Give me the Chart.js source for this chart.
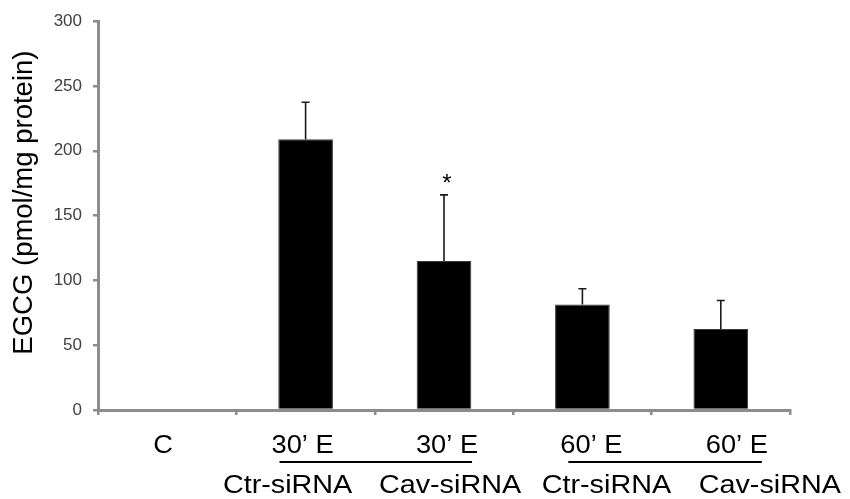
<!DOCTYPE html>
<html>
<head>
<meta charset="utf-8">
<script src="https://cdn.jsdelivr.net/npm/chart.js@4/dist/chart.umd.min.js"></script>
<style>
  html, body { margin: 0; padding: 0; background: #fff; }
  #wrap { width: 850px; height: 499px; }
</style>
</head>
<body>
<div id="wrap"><canvas id="c" width="850" height="499"></canvas></div>
<script>
// EGCG uptake per condition (pmol/mg protein), mean with upper SD
const groups     = ['C', '30\u2019 E', '30\u2019 E', '60\u2019 E', '60\u2019 E'];
const treatments = ['', 'Ctr-siRNA', 'Cav-siRNA', 'Ctr-siRNA', 'Cav-siRNA'];
const egcg       = [0, 209, 115, 81.5, 62.5];
const egcgSD     = [0, 28.5, 51, 12, 22];
const significant = [false, false, true, false, false];
const yTickValues = [0, 50, 100, 150, 200, 250, 300];
const yTitle = 'EGCG (pmol/mg protein)';
// pairs of conditions joined by a line under their time labels
const underlinePairs = [[1, 2], [3, 4]];

const FONT = '"Liberation Sans", Arial, sans-serif';
const AXIS_GREY = '#8c8c8c';

// small horizontal nudges for the two label rows, relative to category centres
const topNudge = [-4, -3, 3, 9, 16];
const bottomNudge = [0, -18, 6, 24, 49];

function drawStretched(ctx, text, x, y, sx) {
  ctx.save();
  ctx.translate(x, y);
  ctx.scale(sx, 1);
  ctx.textAlign = 'center';
  ctx.fillText(text, 0, 0);
  ctx.restore();
}

const annotations = {
  id: 'annotations',
  afterDatasetsDraw(chart) {
    const ctx = chart.ctx;
    const xs = chart.scales.x, ys = chart.scales.y;
    const meta = chart.getDatasetMeta(0);

    // upper error bars
    ctx.save();
    ctx.strokeStyle = '#1a1a1a';
    ctx.lineWidth = 1.6;
    egcg.forEach((v, i) => {
      if (!egcgSD[i]) return;
      const bar = meta.data[i];
      const yTop = ys.getPixelForValue(v + egcgSD[i]);
      ctx.beginPath();
      ctx.moveTo(bar.x, bar.y);
      ctx.lineTo(bar.x, yTop);
      ctx.moveTo(bar.x - 4, yTop);
      ctx.lineTo(bar.x + 4, yTop);
      ctx.stroke();
      if (significant[i]) {
        ctx.fillStyle = '#000';
        ctx.font = '24px ' + FONT;
        ctx.textAlign = 'center';
        ctx.textBaseline = 'alphabetic';
        ctx.fillText('*', bar.x + 3, yTop - 4);
      }
    });
    ctx.restore();
  },
  afterDraw(chart) {
    const ctx = chart.ctx;
    const xs = chart.scales.x, ys = chart.scales.y;
    const area = chart.chartArea;

    // y-axis title
    ctx.save();
    ctx.fillStyle = '#000';
    ctx.font = '27.5px ' + FONT;
    ctx.translate(24, (area.top + area.bottom) / 2 - 13);
    ctx.rotate(-Math.PI / 2);
    ctx.textAlign = 'center';
    ctx.textBaseline = 'middle';
    ctx.fillText(yTitle, 0, 0);
    ctx.restore();

    // category labels, two rows
    ctx.save();
    ctx.fillStyle = '#000';
    ctx.font = '25px ' + FONT;
    ctx.textBaseline = 'alphabetic';
    const topY = area.bottom + 43, bottomY = area.bottom + 83;
    const sTop = 1.09, sBottom = 1.15;
    const topEdges = [];
    groups.forEach((g, i) => {
      const cx = xs.getPixelForValue(i) + topNudge[i];
      drawStretched(ctx, g, cx, topY, sTop);
      const w = ctx.measureText(g).width * sTop;
      topEdges.push([cx - w / 2, cx + w / 2]);
      if (treatments[i]) {
        drawStretched(ctx, treatments[i], xs.getPixelForValue(i) + bottomNudge[i], bottomY, sBottom);
      }
    });
    // lines joining paired conditions
    ctx.strokeStyle = '#000';
    ctx.lineWidth = 2;
    underlinePairs.forEach(([a, b]) => {
      ctx.beginPath();
      ctx.moveTo(topEdges[a][0] + 8, area.bottom + 52);
      ctx.lineTo(topEdges[b][1] - 6, area.bottom + 52);
      ctx.stroke();
    });
    ctx.restore();
  }
};

new Chart(document.getElementById('c'), {
  type: 'bar',
  data: {
    labels: groups,
    datasets: [{
      data: egcg,
      backgroundColor: '#000',
      borderColor: '#3a3a3a',
      borderWidth: 1,
      barPercentage: 0.395,
      categoryPercentage: 1.0
    }]
  },
  options: {
    responsive: false,
    animation: false,
    devicePixelRatio: 1,
    layout: { padding: { left: 0, top: 20, right: 60, bottom: 0 } },
    plugins: { legend: { display: false }, tooltip: { enabled: false } },
    scales: {
      x: {
        grid: {
          offset: true,
          drawOnChartArea: false,
          drawTicks: true,
          tickLength: 5,
          color: AXIS_GREY,
          lineWidth: 2.5
        },
        border: { color: AXIS_GREY, width: 3 },
        ticks: { display: false },
        afterFit(scale) { scale.height = 89; }
      },
      y: {
        min: 0,
        max: 300,
        afterBuildTicks(scale) { scale.ticks = yTickValues.map(v => ({ value: v })); },
        grid: {
          drawOnChartArea: false,
          drawTicks: true,
          tickLength: 5,
          color: AXIS_GREY,
          lineWidth: 2.5
        },
        border: { color: AXIS_GREY, width: 3 },
        ticks: {
          padding: 11,
          color: '#404040',
          font: { family: FONT, size: 17 }
        },
        afterFit(scale) { scale.width = 98; }
      }
    }
  },
  plugins: [annotations]
});
</script>
</body>
</html>
